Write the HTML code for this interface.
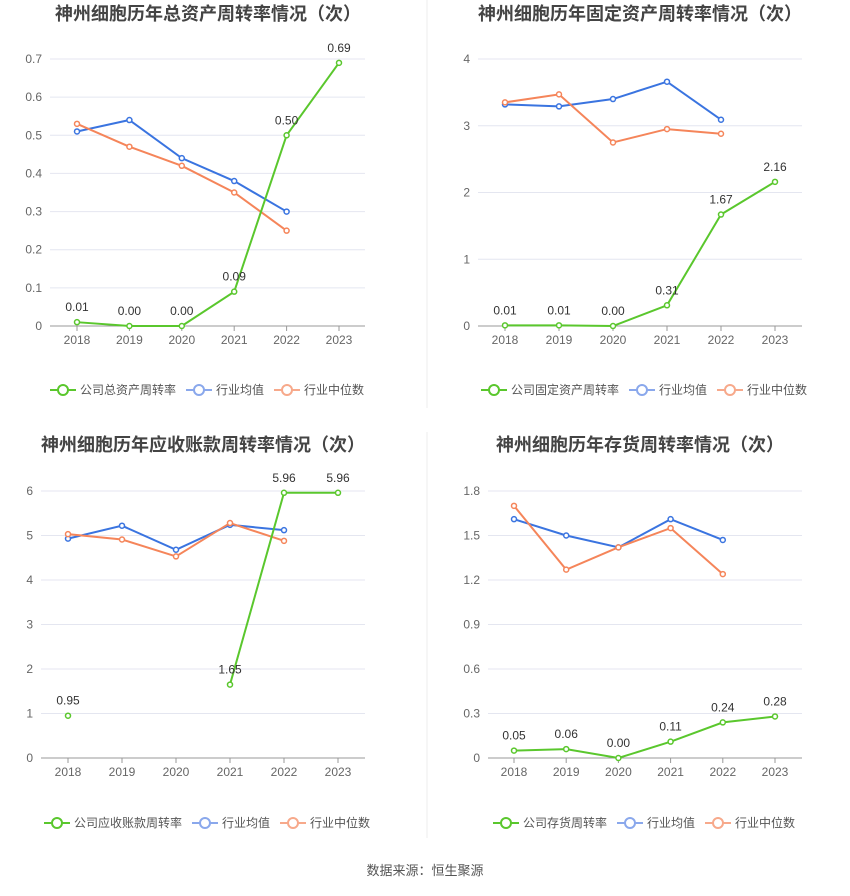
<!DOCTYPE html>
<html><head><meta charset="utf-8"><style>
body{margin:0;background:#fff;font-family:"Liberation Sans","Noto Sans CJK SC",sans-serif}
svg text{font-family:"Liberation Sans","Noto Sans CJK SC",sans-serif}
</style></head><body>
<svg id="s" width="850" height="891" xmlns="http://www.w3.org/2000/svg">
<line x1="427" y1="0" x2="427" y2="408" stroke="#eee"/>
<line x1="427" y1="432" x2="427" y2="838" stroke="#eee"/>
<text x="425" y="875" font-size="13" fill="#555" text-anchor="middle">数据来源：恒生聚源</text>
</svg>
<script>
const years=["2018","2019","2020","2021","2022","2023"];
const c1Company=[0.01,0.00,0.00,0.09,0.50,0.69];
const c1Avg=[0.51,0.54,0.44,0.38,0.30];
const c1Median=[0.53,0.47,0.42,0.35,0.25];
const c1Ticks=[0,0.1,0.2,0.3,0.4,0.5,0.6,0.7];
const c2Company=[0.01,0.01,0.00,0.31,1.67,2.16];
const c2Avg=[3.32,3.29,3.40,3.66,3.09];
const c2Median=[3.35,3.47,2.75,2.95,2.88];
const c2Ticks=[0,1,2,3,4];
const c3Company=[0.95,null,null,1.65,5.96,5.96];
const c3Avg=[4.93,5.22,4.68,5.24,5.12];
const c3Median=[5.03,4.91,4.53,5.28,4.88];
const c3Ticks=[0,1,2,3,4,5,6];
const c4Company=[0.05,0.06,0.00,0.11,0.24,0.28];
const c4Avg=[1.61,1.50,1.42,1.61,1.47];
const c4Median=[1.70,1.27,1.42,1.55,1.24];
const c4Ticks=[0,0.3,0.6,0.9,1.2,1.5,1.8];

const NS="http://www.w3.org/2000/svg", svg=document.getElementById('s');
function mk(t,a,p){const e=document.createElementNS(NS,t);for(const k in a)e.setAttribute(k,a[k]);(p||svg).appendChild(e);return e;}
function chart(o){
  const g=mk('g',{});
  
  
  const max=o.ticks[o.ticks.length-1];
  const y=v=>o.y0-(v/max)*(o.y0-o.yTop);
  const x=i=>o.x0+i*o.dx;
  const t=mk('text',{x:o.tx,y:o.ty,'font-size':18,'font-weight':'bold',fill:'#444','text-anchor':'middle'},g);
  t.textContent=o.title;
  
  
  o.ticks.forEach((v,i)=>{
    const yy=y(v);
    if(i>0){const l=mk('line',{x1:o.pl,x2:o.pr,y1:yy,y2:yy,stroke:'#e4e6f0'},g);
      
      }
    const lb=mk('text',{x:o.pl-8,y:yy+4,'font-size':12,fill:'#666','text-anchor':'end'},g);
    lb.textContent=String(v);
    
    
  });
  const ax=mk('line',{x1:o.pl,x2:o.pr,y1:o.y0,y2:o.y0,stroke:'#999'},g);
  
  
  years.forEach((yr,i)=>{
    mk('line',{x1:x(i),x2:x(i),y1:o.y0,y2:o.y0+5,stroke:'#999'},g);
    const lb=mk('text',{x:x(i),y:o.y0+18,'font-size':12,fill:'#666','text-anchor':'middle'},g);
    lb.textContent=yr;
    
    
  });
  function series(arr,color,name,labels){
    let d='',pen=false;
    arr.forEach((v,i)=>{if(v==null){pen=false;return;}d+=(pen?'L':'M')+x(i)+' '+y(v)+' ';pen=true;});
    const p=mk('path',{d:d,fill:'none',stroke:color,'stroke-width':2},g);
    
    
    arr.forEach((v,i)=>{if(v==null)return;
      const c=mk('circle',{cx:x(i),cy:y(v),r:2.5,fill:'#fff',stroke:color,'stroke-width':1.5},g);
      
      
      if(labels){const tl=mk('text',{x:x(i),y:y(v)-11,'font-size':12,fill:'#333','text-anchor':'middle'},g);
        tl.textContent=v.toFixed(2);
        
        }
    });
  }
  series(o.avg,'#3a74e0','industry-avg',false);
  series(o.med,'#f5855a','industry-median',false);
  series(o.co,'#5ac72d','company',true);
  const items=[[o.coName,'#5ac72d'],['行业均值','#8aa8ec'],['行业中位数','#f7a98b']];
  let lx=o.lx;
  items.forEach(([n,c],k)=>{
    const lg=mk('g',{},g);
    
    
    mk('line',{x1:lx,x2:lx+26,y1:o.ly,y2:o.ly,stroke:c,'stroke-width':2},lg);
    mk('circle',{cx:lx+13,cy:o.ly,r:5,fill:'#fff',stroke:c,'stroke-width':2},lg);
    const tx=mk('text',{x:lx+30,y:o.ly+4,'font-size':12,fill:'#555'},lg);
    tx.textContent=n;
    lx+=30+n.length*12+10;
  });
}
chart({id:'total-asset-turnover-chart',title:'神州细胞历年总资产周转率情况（次）',tx:208,ty:20,pl:50,pr:365,x0:77,dx:52.4,y0:326,yTop:59,ticks:c1Ticks,co:c1Company,avg:c1Avg,med:c1Median,coName:'公司总资产周转率',lx:50,ly:390});
chart({id:'fixed-asset-turnover-chart',title:'神州细胞历年固定资产周转率情况（次）',tx:640,ty:20,pl:478,pr:802,x0:505,dx:54,y0:326,yTop:59,ticks:c2Ticks,co:c2Company,avg:c2Avg,med:c2Median,coName:'公司固定资产周转率',lx:481,ly:390});
chart({id:'receivable-turnover-chart',title:'神州细胞历年应收账款周转率情况（次）',tx:203,ty:451,pl:41,pr:365,x0:68,dx:54,y0:758,yTop:491,ticks:c3Ticks,co:c3Company,avg:c3Avg,med:c3Median,coName:'公司应收账款周转率',lx:44,ly:823});
chart({id:'inventory-turnover-chart',title:'神州细胞历年存货周转率情况（次）',tx:640,ty:451,pl:488,pr:802,x0:514,dx:52.2,y0:758,yTop:491,ticks:c4Ticks,co:c4Company,avg:c4Avg,med:c4Median,coName:'公司存货周转率',lx:493,ly:823});
</script>
</body></html>
